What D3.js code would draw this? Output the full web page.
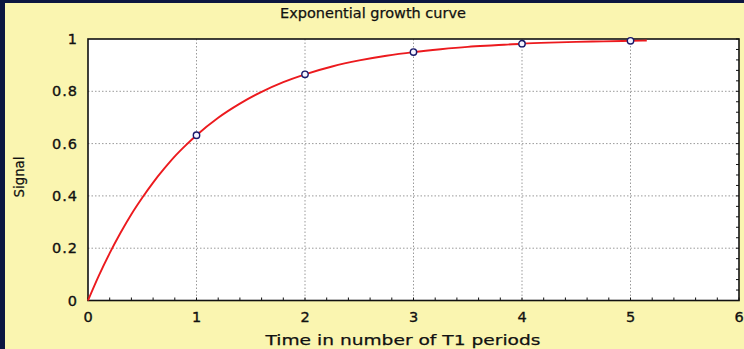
<!DOCTYPE html>
<html>
<head>
<meta charset="utf-8">
<script src="https://cdn.jsdelivr.net/npm/d3@7"></script>
<style>
  html, body { margin: 0; padding: 0; background: #0b1640; }
  svg { display: block; }
  text { font-family: "DejaVu Sans", Verdana, sans-serif; fill: #111; }
</style>
</head>
<body>
<svg id="chart" width="744" height="349"></svg>
<script>
// Signal recovery sampled along the time axis (units of T1)
const timeSamples = [0, 0.1, 0.2, 0.3, 0.4, 0.5, 0.6, 0.7, 0.8, 0.9, 1.0,
                     1.2, 1.4, 1.6, 1.8, 2.0, 2.25, 2.5, 2.75, 3.0, 3.25,
                     3.5, 3.75, 4.0, 4.25, 4.5, 4.75, 5.0, 5.15];
const signalSamples = [0, 0.095, 0.181, 0.259, 0.330, 0.393, 0.451, 0.503, 0.551, 0.593, 0.632,
                       0.699, 0.753, 0.798, 0.835, 0.865, 0.895, 0.918, 0.936, 0.950, 0.961,
                       0.970, 0.976, 0.982, 0.986, 0.989, 0.991, 0.993, 0.994];

// Values marked at whole T1 periods
const markerTimes = [1, 2, 3, 4, 5];
const markerSignals = [0.632, 0.865, 0.950, 0.982, 0.993];

// Axis ticks
const xTicks = [0, 1, 2, 3, 4, 5, 6];
const xTickLabels = ["0", "1", "2", "3", "4", "5", "6"];
const yTicks = [0, 0.2, 0.4, 0.6, 0.8, 1];
const yTickLabels = ["0", "0.2", "0.4", "0.6", "0.8", "1"];

const titleText = "Exponential growth curve";
const xLabel = "Time in number of T1 periods";
const yLabel = "Signal";

const W = 744, H = 349;
const margin = { top: 39, right: 5, bottom: 48.5, left: 88 };
const iw = W - margin.left - margin.right;
const ih = H - margin.top - margin.bottom;

const svg = d3.select("#chart");

// Pale yellow panel inside the dark frame
svg.append("rect").attr("x", 5).attr("y", 3).attr("width", W - 5).attr("height", H - 3)
  .attr("fill", "#faf5b0");

const x = d3.scaleLinear().domain([0, 6]).range([0, iw]);
const y = d3.scaleLinear().domain([0, 1]).range([ih, 0]);

const g = svg.append("g").attr("transform", `translate(${margin.left},${margin.top})`);

g.append("rect").attr("width", iw).attr("height", ih).attr("fill", "#fff");

// Dotted grid at major ticks
g.append("g").selectAll("line").data(xTicks.slice(1, -1)).join("line")
  .attr("x1", d => x(d)).attr("x2", d => x(d)).attr("y1", 0).attr("y2", ih)
  .attr("stroke", "#9a9a9a").attr("stroke-width", 1).attr("stroke-dasharray", "1.5,2");
g.append("g").selectAll("line").data(yTicks.slice(1, -1)).join("line")
  .attr("x1", 0).attr("x2", iw).attr("y1", d => y(d)).attr("y2", d => y(d))
  .attr("stroke", "#9a9a9a").attr("stroke-width", 1).attr("stroke-dasharray", "1.5,2");

const labelStyle = sel => sel
  .attr("font-size", 14.5).attr("font-family", "DejaVu Sans")
  .attr("letter-spacing", 1).attr("fill", "#111")
  .attr("stroke", "#111").attr("stroke-width", 0.35);

// Bottom axis: labels plus inward minor ticks
const xAxis = d3.axisBottom(x).tickValues(xTicks).tickFormat((d, i) => xTickLabels[i])
  .tickSize(0).tickPadding(11);
const xa = g.append("g").attr("transform", `translate(0,${ih})`).call(xAxis);
xa.select(".domain").remove();
xa.selectAll("text").call(labelStyle);

const xMinor = d3.range(0, 31).map(i => i * 0.2);
g.append("g").selectAll("line").data(xMinor).join("line")
  .attr("x1", d => x(d)).attr("x2", d => x(d))
  .attr("y1", ih).attr("y2", ih - 3)
  .attr("stroke", "#111").attr("stroke-width", 1);

// Left axis labels
const yAxis = d3.axisLeft(y).tickValues(yTicks).tickFormat((d, i) => yTickLabels[i])
  .tickSize(0).tickPadding(10);
const ya = g.append("g").call(yAxis);
ya.select(".domain").remove();
ya.selectAll("text").call(labelStyle);

// Right side inward ticks
const yMinor = d3.range(0, 26).map(i => i * 0.04);
g.append("g").selectAll("line").data(yMinor).join("line")
  .attr("x1", iw).attr("x2", iw - 3)
  .attr("y1", d => y(d)).attr("y2", d => y(d))
  .attr("stroke", "#111").attr("stroke-width", 1);

// Frame
g.append("rect").attr("width", iw).attr("height", ih)
  .attr("fill", "none").attr("stroke", "#111").attr("stroke-width", 1.6);

// Growth curve
const line = d3.line()
  .x((d, i) => x(timeSamples[i]))
  .y(d => y(d))
  .curve(d3.curveMonotoneX);
g.append("path").datum(signalSamples).attr("d", line)
  .attr("fill", "none").attr("stroke", "#ec1a1e").attr("stroke-width", 1.9);

// Markers at whole periods
g.append("g").selectAll("circle").data(markerSignals).join("circle")
  .attr("cx", (d, i) => x(markerTimes[i])).attr("cy", d => y(d)).attr("r", 3.2)
  .attr("fill", "#f4f4ff").attr("stroke", "#1a1a6a").attr("stroke-width", 1.4);

// Titles
svg.append("text").attr("x", 373).attr("y", 18).attr("text-anchor", "middle")
  .attr("font-size", 14).attr("textLength", 186).attr("lengthAdjust", "spacingAndGlyphs")
  .attr("stroke", "#111").attr("stroke-width", 0.25)
  .text(titleText);

svg.append("text").attr("x", 403).attr("y", 345).attr("text-anchor", "middle")
  .attr("font-size", 14.5).attr("textLength", 275).attr("lengthAdjust", "spacingAndGlyphs")
  .attr("stroke", "#111").attr("stroke-width", 0.25)
  .text(xLabel);

svg.append("text").attr("transform", "translate(24,177) rotate(-90)")
  .attr("text-anchor", "middle").attr("font-size", 14)
  .attr("textLength", 41).attr("lengthAdjust", "spacingAndGlyphs")
  .attr("stroke", "#111").attr("stroke-width", 0.25)
  .text(yLabel);
</script>
</body>
</html>
